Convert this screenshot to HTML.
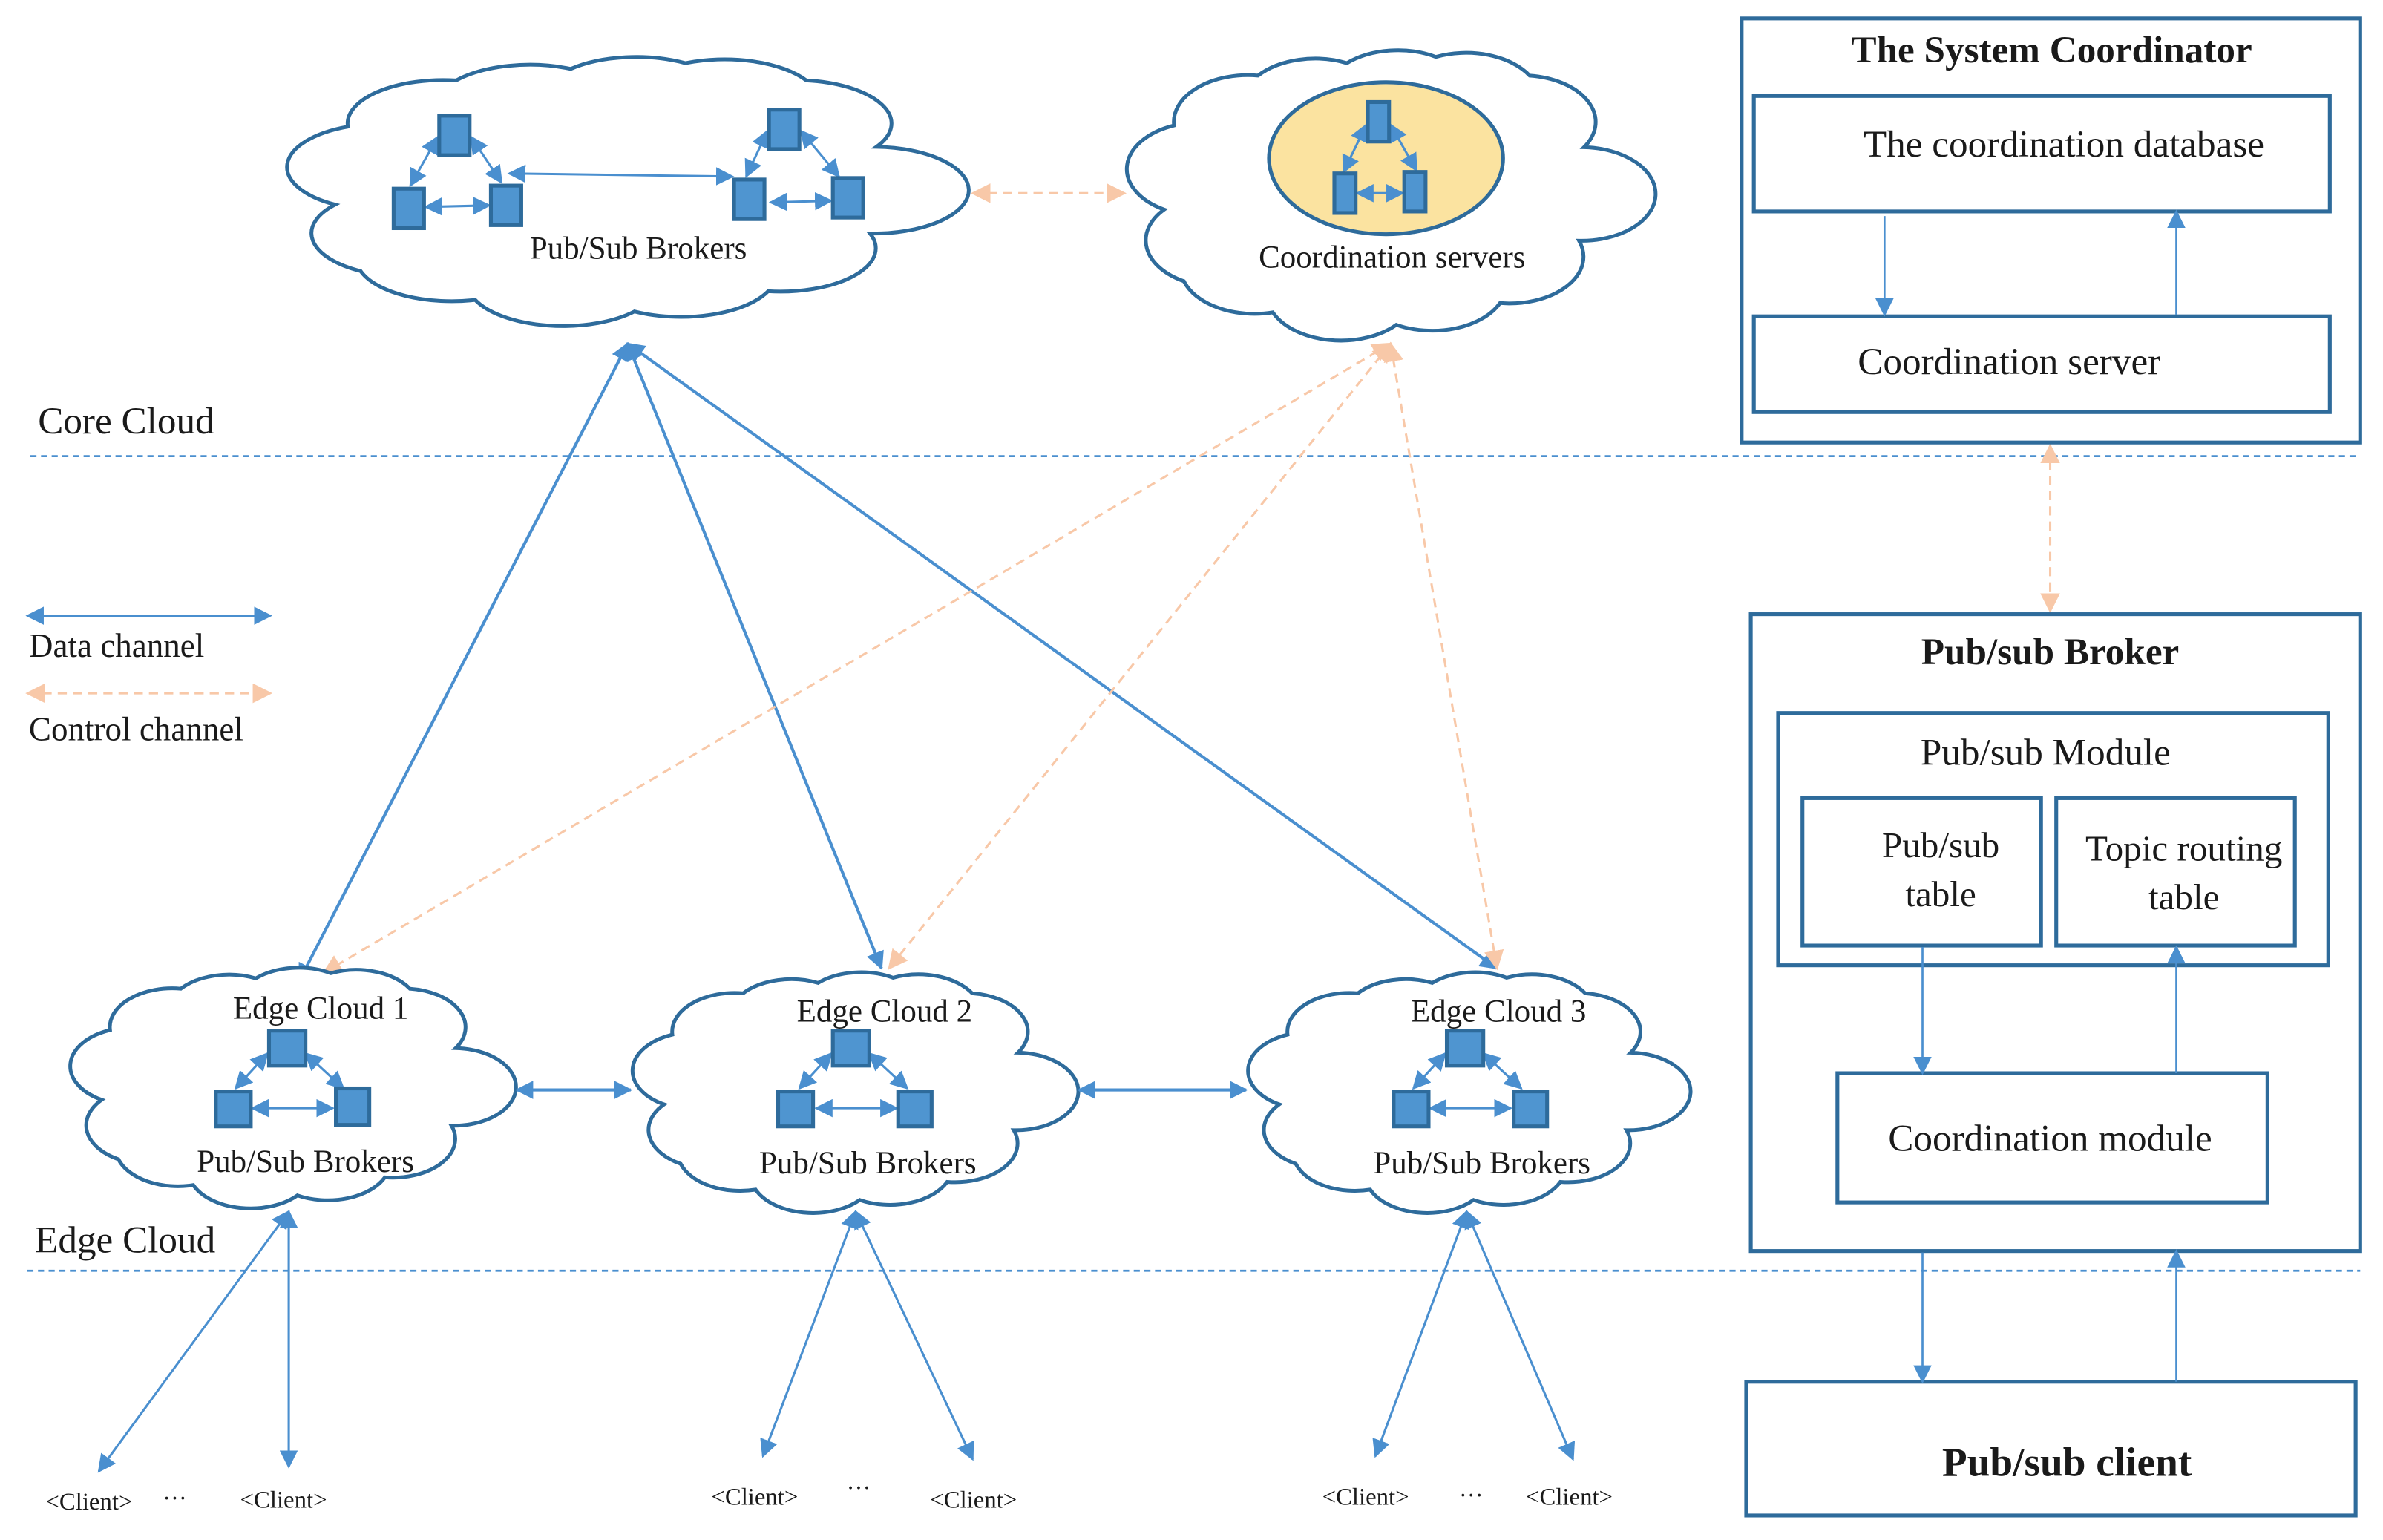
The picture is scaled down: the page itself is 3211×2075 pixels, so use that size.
<!DOCTYPE html>
<html><head><meta charset="utf-8"><style>
html,body{margin:0;padding:0;background:#fff}
svg{display:block}
text{font-family:"Liberation Serif",serif;fill:#1a1a1a}
</style></head><body>
<svg width="3211" height="2075" viewBox="0 0 1568 1013" xmlns="http://www.w3.org/2000/svg">
<defs>
<marker id="b" viewBox="0 0 10 10" refX="9" refY="5" markerWidth="12" markerHeight="12" markerUnits="userSpaceOnUse" orient="auto-start-reverse"><path d="M0,0 L10,5 L0,10 z" fill="#4a8fcf"/></marker>
<marker id="o" viewBox="0 0 10 10" refX="9" refY="5" markerWidth="13" markerHeight="13" markerUnits="userSpaceOnUse" orient="auto-start-reverse"><path d="M0,0 L10,5 L0,10 z" fill="#f8c8a8"/></marker>
<path id="cl" d="M0.08,0.55 A0.15,0.15 0 0 1 0.10,0.28 A0.15,0.15 0 0 1 0.27,0.12 A0.15,0.15 0 0 1 0.45,0.08 A0.15,0.15 0 0 1 0.63,0.06 A0.15,0.15 0 0 1 0.82,0.12 A0.15,0.15 0 0 1 0.93,0.35 A0.15,0.15 0 0 1 0.92,0.65 A0.15,0.15 0 0 1 0.76,0.85 A0.15,0.15 0 0 1 0.55,0.92 A0.15,0.15 0 0 1 0.30,0.88 A0.15,0.15 0 0 1 0.12,0.78 A0.15,0.15 0 0 1 0.08,0.55 Z" fill="#fff" stroke="#2e6b9b" stroke-width="5" vector-effect="non-scaling-stroke"/>
</defs>
<g fill="none" stroke-width="1.3">
<line x1="20" y1="300" x2="1553" y2="300" stroke="#4a8fcf" stroke-dasharray="4,3"/>
<line x1="18" y1="836" x2="1553" y2="836" stroke="#4a8fcf" stroke-dasharray="4,3"/>
<g stroke="#4a8fcf" stroke-width="2" marker-start="url(#b)" marker-end="url(#b)">
<line x1="413" y1="226" x2="197" y2="645"/>
<line x1="413" y1="226" x2="580" y2="637"/>
<line x1="413" y1="226" x2="985" y2="637"/>
</g>
<g stroke="#f8c8a8" stroke-width="1.5" stroke-dasharray="6,4" marker-start="url(#o)" marker-end="url(#o)">
<line x1="915" y1="226" x2="213" y2="640"/>
<line x1="915" y1="226" x2="585" y2="637"/>
<line x1="915" y1="226" x2="985" y2="637"/>
<line x1="1349" y1="293" x2="1349" y2="402"/>
<line x1="18" y1="456" x2="178" y2="456"/>
</g>
<g stroke="#4a8fcf" stroke-width="1.5" marker-start="url(#b)" marker-end="url(#b)">
<line x1="18" y1="405" x2="178" y2="405"/>
<line x1="190" y1="797" x2="65" y2="968"/>
<line x1="190" y1="797" x2="190" y2="965"/>
<line x1="563" y1="797" x2="502" y2="958"/>
<line x1="563" y1="797" x2="640" y2="960"/>
<line x1="965" y1="797" x2="905" y2="958"/>
<line x1="965" y1="797" x2="1035" y2="960"/>
</g>
</g>
<use href="#cl" transform="translate(187,30) scale(419,190)"/>
<use href="#cl" transform="translate(740,25) scale(325,205)"/>
<use href="#cl" transform="translate(45,630) scale(274,170)"/>
<use href="#cl" transform="translate(415,633) scale(274,170)"/>
<use href="#cl" transform="translate(820,633) scale(272,170)"/>
<ellipse cx="912" cy="104" rx="77" ry="50" fill="#fbe3a0" stroke="#2e6b9b" stroke-width="2.5"/>
<g fill="none" stroke-width="2" marker-start="url(#b)" marker-end="url(#b)" stroke="#4a8fcf">
<line x1="340" y1="717" x2="415" y2="717"/>
<line x1="710" y1="717" x2="820" y2="717"/>
</g>
<line x1="640" y1="127" x2="740" y2="127" stroke="#f8c8a8" stroke-width="1.5" stroke-dasharray="6,4" marker-start="url(#o)" marker-end="url(#o)"/>
<g stroke="#4a8fcf" stroke-width="1.5" marker-start="url(#b)" marker-end="url(#b)">
<line x1="288" y1="90" x2="270" y2="122"/><line x1="310" y1="90" x2="330" y2="120"/><line x1="280" y1="136" x2="322" y2="135"/>
<line x1="335" y1="114" x2="482" y2="116"/>
<line x1="505" y1="86" x2="491" y2="116"/><line x1="527" y1="86" x2="552" y2="116"/><line x1="507" y1="133" x2="547" y2="132"/>
<line x1="899" y1="82" x2="884" y2="113"/><line x1="915" y1="82" x2="932" y2="112"/><line x1="893" y1="127" x2="923" y2="127"/>
<line x1="176" y1="693" x2="155" y2="716"/><line x1="201" y1="693" x2="226" y2="716"/><line x1="166" y1="729" x2="219" y2="729"/>
<line x1="547" y1="693" x2="526" y2="716"/><line x1="572" y1="693" x2="597" y2="716"/><line x1="537" y1="729" x2="590" y2="729"/>
<line x1="951" y1="693" x2="930" y2="716"/><line x1="976" y1="693" x2="1001" y2="716"/><line x1="941" y1="729" x2="994" y2="729"/>
</g>
<g fill="#4f95d0" stroke="#2e6b9b" stroke-width="2.5">
<rect x="289" y="76" width="20" height="26"/><rect x="259" y="124" width="20" height="26"/><rect x="323" y="122" width="20" height="26"/>
<rect x="506" y="72" width="20" height="26"/><rect x="483" y="118" width="20" height="26"/><rect x="548" y="117" width="20" height="26"/>
<rect x="900" y="67" width="14" height="26"/><rect x="878" y="114" width="14" height="26"/><rect x="924" y="113" width="14" height="26"/>
<rect x="177" y="678" width="24" height="23"/><rect x="142" y="718" width="23" height="23"/><rect x="221" y="716" width="22" height="24"/>
<rect x="548" y="678" width="24" height="23"/><rect x="512" y="718" width="23" height="23"/><rect x="591" y="718" width="22" height="23"/>
<rect x="952" y="678" width="24" height="23"/><rect x="917" y="718" width="23" height="23"/><rect x="996" y="718" width="22" height="23"/>
</g>
<g font-size="21" text-anchor="middle">
<text x="420" y="170">Pub/Sub Brokers</text>
<text x="916" y="176">Coordination servers</text>
<text x="211" y="670">Edge Cloud 1</text>
<text x="201" y="771">Pub/Sub Brokers</text>
<text x="582" y="672">Edge Cloud 2</text>
<text x="571" y="772">Pub/Sub Brokers</text>
<text x="986" y="672">Edge Cloud 3</text>
<text x="975" y="772">Pub/Sub Brokers</text>
</g>
<g font-size="25">
<text x="25" y="285">Core Cloud</text>
<text x="23" y="824">Edge Cloud</text>
</g>
<g font-size="22">
<text x="19" y="432">Data channel</text>
<text x="19" y="487">Control channel</text>
</g>
<g font-size="16">
<text x="30" y="993">&lt;Client&gt;</text><text x="107" y="991">···</text><text x="158" y="992">&lt;Client&gt;</text>
<text x="468" y="990">&lt;Client&gt;</text><text x="557" y="984">···</text><text x="612" y="992">&lt;Client&gt;</text>
<text x="870" y="990">&lt;Client&gt;</text><text x="960" y="989">···</text><text x="1004" y="990">&lt;Client&gt;</text>
</g>
<g fill="none" stroke="#2e6b9b" stroke-width="2.5">
<rect x="1146" y="12" width="407" height="279"/>
<rect x="1154" y="63" width="379" height="76"/>
<rect x="1154" y="208" width="379" height="63"/>
<rect x="1152" y="404" width="401" height="419"/>
<rect x="1170" y="469" width="362" height="166"/>
<rect x="1186" y="525" width="157" height="97"/>
<rect x="1353" y="525" width="157" height="97"/>
<rect x="1209" y="706" width="283" height="85"/>
<rect x="1149" y="909" width="401" height="88"/>
</g>
<g stroke="#4a8fcf" stroke-width="1.3" marker-end="url(#b)">
<line x1="1240" y1="142" x2="1240" y2="207"/>
<line x1="1432" y1="207" x2="1432" y2="139"/>
<line x1="1265" y1="623" x2="1265" y2="706"/>
<line x1="1432" y1="706" x2="1432" y2="623"/>
<line x1="1265" y1="824" x2="1265" y2="909"/>
<line x1="1432" y1="909" x2="1432" y2="823"/>
</g>
<g text-anchor="middle">
<text x="1350" y="41" font-size="25" font-weight="bold">The System Coordinator</text>
<text x="1358" y="103" font-size="25">The coordination database</text>
<text x="1322" y="246" font-size="25">Coordination server</text>
<text x="1349" y="437" font-size="25" font-weight="bold">Pub/sub Broker</text>
<text x="1346" y="503" font-size="25">Pub/sub Module</text>
<text x="1277" y="564" font-size="24">Pub/sub</text>
<text x="1277" y="596" font-size="24">table</text>
<text x="1437" y="566" font-size="24">Topic routing</text>
<text x="1437" y="598" font-size="24">table</text>
<text x="1349" y="757" font-size="25">Coordination module</text>
<text x="1360" y="971" font-size="27" font-weight="bold">Pub/sub client</text>
</g>
</svg>
</body></html>
